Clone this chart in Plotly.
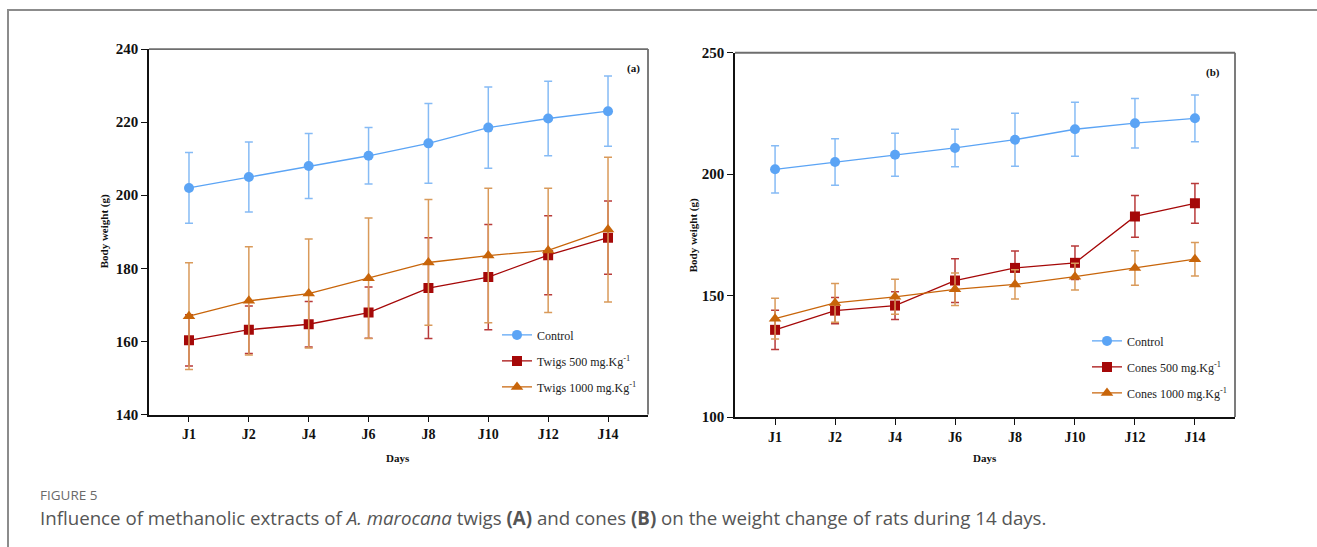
import plotly.graph_objects as go

W, H = 1317, 556
# observed page mapping: rendered_y ~= 8 + 0.97 * figure_y
YOFF, YSC = 8, 0.97

days = ["J1", "J2", "J4", "J6", "J8", "J10", "J12", "J14"]

control = [202.0, 205.0, 208.0, 210.8, 214.2, 218.5, 221.0, 223.0]
control_err = [9.7, 9.6, 8.9, 7.7, 10.9, 11.1, 10.2, 9.6]

twigs500 = [160.3, 163.2, 164.7, 167.9, 174.6, 177.6, 183.6, 188.4]
twigs500_err = [7.0, 6.5, 6.2, 7.0, 13.8, 14.4, 10.8, 10.0]
twigs1000 = [166.9, 171.1, 173.1, 177.3, 181.6, 183.5, 184.9, 190.6]
twigs1000_err = [14.6, 14.8, 14.9, 16.5, 17.2, 18.4, 17.0, 19.8]

cones500 = [135.9, 143.8, 145.9, 156.2, 161.4, 163.5, 182.6, 188.0]
cones500_err = [8.1, 5.4, 5.7, 9.0, 7.0, 6.9, 8.6, 8.2]
cones1000 = [140.5, 147.0, 149.5, 152.6, 154.6, 157.8, 161.4, 165.0]
cones1000_err = [8.4, 8.0, 7.2, 6.7, 6.0, 5.5, 7.1, 6.9]

C_BLUE, C_BLUE_E = "#5ba4f5", "#86bbf5"
C_RED, C_RED_E = "#a50808", "#b83a3a"
C_ORG, C_ORG_E = "#c8650a", "#d99a5a"

SERIF = "Liberation Serif, Times New Roman, serif"

fig = go.Figure()


def add(y, err, name, color, ecolor, symbol, size, xa, ya, legend, group):
    fig.add_trace(go.Scatter(
        x=days, y=y, name=name, mode="lines+markers",
        line=dict(color=color, width=1.3),
        marker=dict(color=color, symbol=symbol, size=size),
        error_y=dict(type="data", array=err, visible=True, color=ecolor,
                     thickness=1.5, width=4),
        xaxis=xa, yaxis=ya, legend=legend, legendgroup=group,
    ))


add(control, control_err, "Control", C_BLUE, C_BLUE_E, "circle", 10, "x", "y", "legend", "a1")
add(twigs500, twigs500_err, "Twigs 500 mg.Kg<sup>-1</sup>", C_RED, C_RED_E, "square", 10, "x", "y", "legend", "a2")
add(twigs1000, twigs1000_err, "Twigs 1000 mg.Kg<sup>-1</sup>", C_ORG, C_ORG_E, "triangle-up", 11, "x", "y", "legend", "a3")

add(control, control_err, "Control", C_BLUE, C_BLUE_E, "circle", 10, "x2", "y2", "legend2", "b1")
add(cones500, cones500_err, "Cones 500 mg.Kg<sup>-1</sup>", C_RED, C_RED_E, "square", 10, "x2", "y2", "legend2", "b2")
add(cones1000, cones1000_err, "Cones 1000 mg.Kg<sup>-1</sup>", C_ORG, C_ORG_E, "triangle-up", 11, "x2", "y2", "legend2", "b3")

# target pixel geometry (page coordinates)
L1, R1, T1, B1 = 149, 648, 49, 414
L2, R2, T2, B2 = 735, 1235, 52.7, 416.5


def px(x):
    return x / W


def py(y):
    return 1 - ((y - YOFF) / YSC) / H


xcommon = dict(
    type="category", range=[-0.668, 7.668], showgrid=False, zeroline=False,
    showline=True, linecolor="#111", linewidth=1.5, ticks="outside",
    ticklen=6, tickwidth=1.3, tickcolor="#111",
    tickfont=dict(family=SERIF, size=14, color="#111", weight="bold"),
)
ycommon = dict(
    showgrid=False, zeroline=False, showline=True, linecolor="#111",
    linewidth=1.5, ticks="outside", ticklen=6, tickwidth=1.3, tickcolor="#111",
    tickfont=dict(family=SERIF, size=15, color="#111", weight="bold"),
)

legcommon = dict(
    font=dict(family=SERIF, size=12, color="#222"),
    bgcolor="rgba(0,0,0,0)", borderwidth=0, xanchor="left", yanchor="top",
    traceorder="grouped", tracegroupgap=7,
)

fig.update_layout(
    width=W, height=H, margin=dict(l=0, r=0, t=0, b=0),
    paper_bgcolor="white", plot_bgcolor="white",
    xaxis=dict(domain=[px(L1), px(R1)], anchor="y", **xcommon),
    yaxis=dict(domain=[py(B1), py(T1)], anchor="x", range=[140, 240],
               tickvals=[140, 160, 180, 200, 220, 240], **ycommon),
    xaxis2=dict(domain=[px(L2), px(R2)], anchor="y2", **xcommon),
    yaxis2=dict(domain=[py(B2), py(T2)], anchor="x2", range=[100, 250],
                tickvals=[100, 150, 200, 250], **ycommon),
    legend=dict(x=px(497), y=py(320), **legcommon),
    legend2=dict(x=px(1087), y=py(326), **legcommon),
    showlegend=True,
)

shapes = []
for (l, r, t, b) in [(L1, R1, T1, B1), (L2, R2, T2, B2)]:
    shapes.append(dict(type="line", xref="paper", yref="paper",
                       x0=px(l), x1=px(r), y0=py(t), y1=py(t),
                       line=dict(color="#6e6e6e", width=1.8)))
    shapes.append(dict(type="line", xref="paper", yref="paper",
                       x0=px(r), x1=px(r), y0=py(t), y1=py(b),
                       line=dict(color="#6e6e6e", width=1.8)))
# outer figure frame
shapes.append(dict(type="rect", xref="paper", yref="paper",
                   x0=px(8), x1=1.05, y0=-0.08, y1=py(10),
                   line=dict(color="#8c8c8c", width=2)))
fig.update_layout(shapes=shapes)

ann = []
bold11 = dict(family=SERIF, size=11, color="#111", weight="bold")


def note(text, x, y, font, angle=0, xanchor="center"):
    ann.append(dict(text=text, x=px(x), y=py(y), xref="paper", yref="paper",
                    xanchor=xanchor, yanchor="middle", showarrow=False,
                    textangle=angle, font=font))


note("Days", 398, 457, bold11)
note("Days", 985, 457, bold11)
note("Body weight (g)", 104, 231, bold11, angle=-90)
note("Body weight (g)", 693, 235, bold11, angle=-90)
note("(a)", 633, 68, bold11)
note("(b)", 1213, 72, bold11)
note("FIGURE 5", 38, 494, dict(family="Open Sans, sans-serif", size=13.5, color="#6a6a6a"),
     xanchor="left")
note("Influence of methanolic extracts of <i>A. marocana</i> twigs <b>(A)</b> and cones "
     "<b>(B)</b> on the weight change of rats during 14 days.",
     38, 517, dict(family="Open Sans, sans-serif", size=18.7, color="#555"), xanchor="left")
fig.update_layout(annotations=ann)

fig.write_html("out.html")
